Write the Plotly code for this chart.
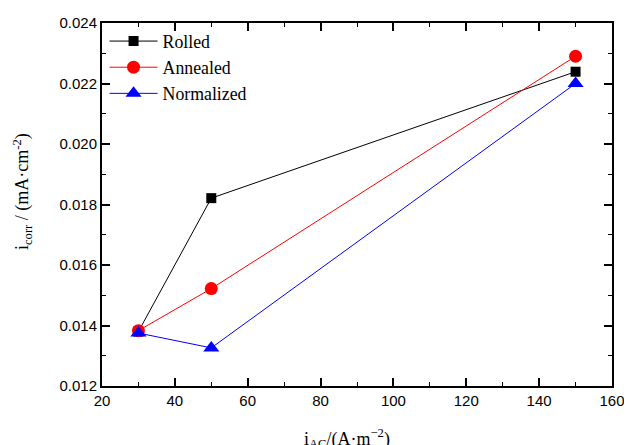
import plotly.graph_objects as go

x_vals = [30, 50, 150]
rolled = [0.01380, 0.01821, 0.02239]
annealed = [0.01383, 0.01522, 0.02290]
normalized = [0.01375, 0.01326, 0.02200]

series_names = ["Rolled", "Annealed", "Normalized"]
colors = ["black", "red", "blue"]
symbols = ["square", "circle", "triangle-up"]
sizes = [10, 13, 14]

fig = go.Figure()
for name, ys, c, s, sz in zip(series_names, [rolled, annealed, normalized], colors, symbols, sizes):
    fig.add_trace(go.Scatter(
        x=x_vals, y=ys, mode="lines+markers", name=name,
        line=dict(color=c, width=1),
        marker=dict(symbol=s, size=sz, color=c),
    ))

axis_common = dict(
    showline=True, linecolor="black", linewidth=2, mirror="ticks",
    ticks="inside", ticklen=8, tickwidth=1.5, tickcolor="black",
    showgrid=False, zeroline=False, automargin=False, ticklabeloverflow="allow",
    tickfont=dict(family="Liberation Sans, Arial", size=15, color="black"),
)

title_font = dict(family="Liberation Serif, Times New Roman", size=18, color="black")

fig.update_layout(
    width=624, height=445,
    margin=dict(l=102, r=12, t=23, b=59),
    paper_bgcolor="white", plot_bgcolor="white",
    showlegend=True,
    legend=dict(x=0.005, y=1.0, xanchor="left", yanchor="top",
                bgcolor="rgba(0,0,0,0)",
                font=dict(family="Liberation Serif, Times New Roman", size=17.8, color="black"),
                tracegroupgap=0, itemwidth=48),
    xaxis=dict(range=[20, 160], tickvals=[20, 40, 60, 80, 100, 120, 140, 160],
               minor=dict(ticks="inside", ticklen=4, tickwidth=1, tickcolor="black", dtick=10, tick0=0),
               **axis_common),
    yaxis=dict(range=[0.012, 0.024], tickvals=[0.012, 0.014, 0.016, 0.018, 0.020, 0.022, 0.024],
               tickformat=".3f",
               minor=dict(ticks="inside", ticklen=4, tickwidth=1, tickcolor="black", dtick=0.001, tick0=0),
               **axis_common),
    annotations=[
        dict(text="i<sub>AC</sub>/(A·m<sup>−2</sup>)", xref="paper", yref="paper",
             x=0.48, y=-0.105, xanchor="center", yanchor="top", showarrow=False, font=title_font),
        dict(text="i<sub>corr</sub> / (mA·cm<sup>-2</sup>)", xref="paper", yref="paper",
             x=-0.157, y=0.537, xanchor="center", yanchor="middle", textangle=-90,
             showarrow=False, font=title_font),
    ],
)

fig.write_html("out.html")
